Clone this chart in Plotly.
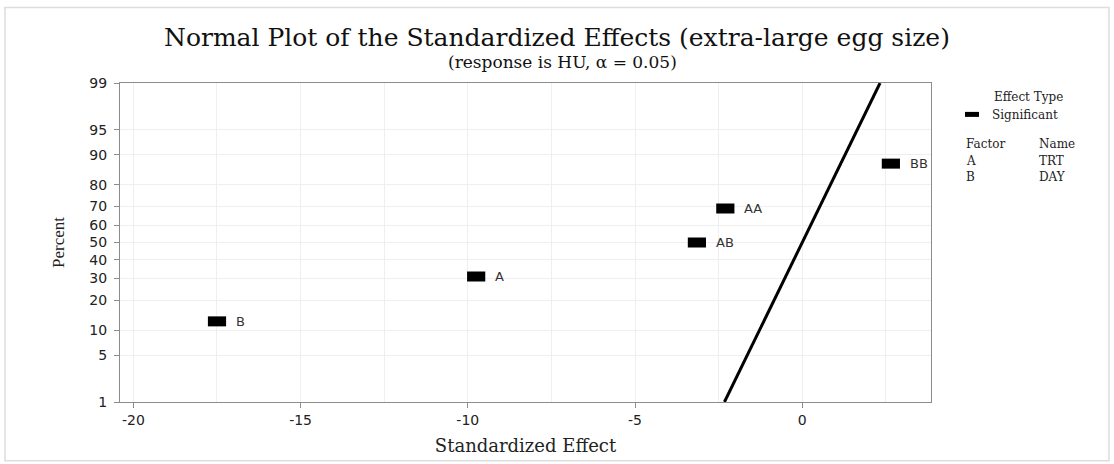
import plotly.graph_objects as go
from statistics import NormalDist

# ---------------- data ----------------
terms = ["B", "A", "AB", "AA", "BB"]
std_effect = [-17.5, -9.75, -3.15, -2.3, 2.65]
percent = [12.5, 31.0, 50.0, 69.0, 87.5]

ref_effect = [-2.326, 2.326]
ref_percent = [1, 99]

x_tick_vals = [-20, -15, -10, -5, 0]
x_tick_text = ["-20", "-15", "-10", "-5", "0"]
y_ticks_pct = [1, 5, 10, 20, 30, 40, 50, 60, 70, 80, 90, 95, 99]
y_tick_text = [str(v) for v in y_ticks_pct]

factors = ["A", "B"]
factor_names = ["TRT", "DAY"]

# ---------------- layout helpers ----------------
W, H = 1114, 464
ML, MR, MT, MB = 120, 183, 83, 60
PW, PH = W - ML - MR, H - MT - MB


def px_x(px):
    return (px - ML) / PW


def px_y(py):
    return (H - MB - py) / PH


nd = NormalDist()


def probit(p):
    return nd.inv_cdf(p / 100.0)


SERIF = "DejaVu Serif"
SANS = "DejaVu Sans"

fig = go.Figure()

# reference line
fig.add_trace(go.Scatter(
    x=ref_effect, y=[probit(p) for p in ref_percent],
    mode="lines", line=dict(color="black", width=3),
    showlegend=False, hoverinfo="skip"))

# effects
ys = [probit(p) for p in percent]
fig.add_trace(go.Scatter(
    x=std_effect, y=ys,
    mode="markers",
    marker=dict(symbol="line-ew", size=13, color="black",
                line=dict(width=10, color="black")),
    showlegend=False, name="Significant", text=terms))

# legend entry
fig.add_trace(go.Scatter(
    x=[None], y=[None], mode="markers", name="Significant",
    marker=dict(symbol="line-ew", size=10, color="black",
                line=dict(width=6, color="black")),
    showlegend=True))

annotations = [
    dict(text="Normal Plot of the Standardized Effects (extra-large egg size)",
         x=px_x(557), y=px_y(37), xref="paper", yref="paper",
         xanchor="center", yanchor="middle", showarrow=False,
         font=dict(family=SERIF, size=25, color="#111111")),
    dict(text="(response is HU, α = 0.05)",
         x=px_x(562), y=px_y(62), xref="paper", yref="paper",
         xanchor="center", yanchor="middle", showarrow=False,
         font=dict(family=SERIF, size=17, color="#111111")),
    dict(text="Effect Type", x=px_x(992), y=px_y(97), xref="paper", yref="paper",
         xanchor="left", yanchor="middle", showarrow=False,
         font=dict(family=SERIF, size=12, color="#222222")),
    dict(text="Factor", x=px_x(964), y=px_y(144), xref="paper", yref="paper",
         xanchor="left", yanchor="middle", showarrow=False,
         font=dict(family=SERIF, size=12, color="#222222")),
    dict(text="Name", x=px_x(1037), y=px_y(144), xref="paper", yref="paper",
         xanchor="left", yanchor="middle", showarrow=False,
         font=dict(family=SERIF, size=12, color="#222222")),
]
for i, (f, n) in enumerate(zip(factors, factor_names)):
    yy = px_y(161 + 17 * i)
    annotations.append(dict(text=f, x=px_x(964), y=yy, xref="paper", yref="paper",
                            xanchor="left", yanchor="middle", showarrow=False,
                            font=dict(family=SERIF, size=12, color="#222222")))
    annotations.append(dict(text=n, x=px_x(1037), y=yy, xref="paper", yref="paper",
                            xanchor="left", yanchor="middle", showarrow=False,
                            font=dict(family=SERIF, size=12, color="#222222")))

# point labels
for t, xv, yv in zip(terms, std_effect, ys):
    annotations.append(dict(text=t, x=xv, y=yv, xref="x", yref="y",
                            xanchor="left", yanchor="middle", xshift=17,
                            showarrow=False,
                            font=dict(family=SANS, size=13, color="#333333")))

shapes = [dict(type="rect", xref="paper", yref="paper",
               x0=px_x(5), x1=px_x(1109), y0=px_y(463), y1=px_y(7),
               line=dict(color="#dddddd", width=1.5), layer="below")]

axis_common = dict(showline=True, mirror=True, linecolor="#8c8c8c", linewidth=1,
                   ticks="outside", ticklen=5, tickcolor="#8c8c8c",
                   tickfont=dict(family=SANS, size=14, color="#222222"),
                   gridcolor="#efefef", zeroline=False)

fig.update_layout(
    width=W, height=H,
    margin=dict(l=ML, r=MR, t=MT, b=MB),
    paper_bgcolor="white", plot_bgcolor="white",
    annotations=annotations, shapes=shapes,
    legend=dict(x=px_x(952), y=px_y(100), xanchor="left", yanchor="top",
                font=dict(family=SERIF, size=12, color="#222222"),
                bgcolor="rgba(0,0,0,0)", itemsizing="trace"),
    xaxis=dict(range=[-20.4, 3.85], tickvals=x_tick_vals, ticktext=x_tick_text,
               showgrid=True,
               minor=dict(dtick=2.5, tick0=0, showgrid=True, gridcolor="#efefef", ticks=""),
               title=dict(text="Standardized Effect", standoff=12,
                          font=dict(family=SERIF, size=18, color="#222222")),
               **axis_common),
    yaxis=dict(range=[probit(1), probit(99)],
               tickvals=[probit(v) for v in y_ticks_pct], ticktext=y_tick_text,
               showgrid=True, ticklabelstandoff=4,
               title=dict(text="Percent", standoff=20,
                          font=dict(family="Liberation Serif", size=17, color="#222222")),
               **axis_common),
)

fig.write_html("out.html")
